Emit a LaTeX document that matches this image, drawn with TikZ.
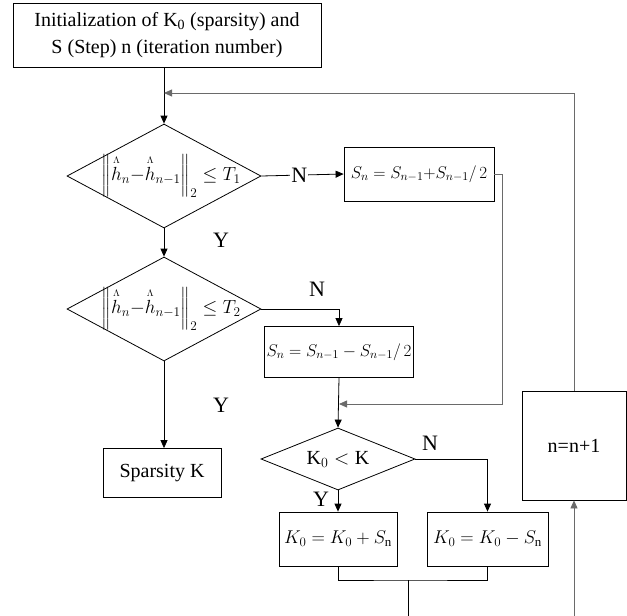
\RequirePackage{fix-cm}
\documentclass[tikz,border=0pt]{standalone}
\usepackage{amsmath}
\usepackage{fontspec}
\setmainfont{Liberation Serif}
\definecolor{lineg}{HTML}{6A6A6A}
\usetikzlibrary{arrows.meta,shapes.geometric}
\newcommand{\hh}{\overset{\scriptscriptstyle\Lambda}{h}}

\begin{document}
\begin{tikzpicture}[x=1pt,y=-1pt,line width=0.8pt,
  box/.style={draw,inner sep=0pt,align=center,font=\fontsize{20}{27}\selectfont},
  dec/.style={draw,shape=diamond,inner sep=0pt,font=\fontsize{19}{22}\selectfont},
  eq/.style={box,font=\fontsize{17}{20}\selectfont},
  lbl/.style={inner sep=1pt,font=\fontsize{22}{24}\selectfont},
  flow/.style={-{Triangle[length=8pt,width=7pt]}},
  back/.style={flow,lineg}]
  \useasboundingbox (0,0) rectangle (627,616);
  \node[box,minimum width=308pt,minimum height=64pt] (init) at (167,35) {Initialization of K\textsubscript{0} (sparsity) and\\S (Step) n (iteration number)};
  \node[dec,minimum width=194pt,minimum height=104pt] (d1) at (164,176) {\makebox[0pt]{\kern14pt$\left\|\hh_n{-}\hh_{n-1}\right\|_2\le T_1$}};
  \node[dec,minimum width=194pt,minimum height=104pt] (d2) at (164,309) {\makebox[0pt]{\kern14pt$\left\|\hh_n{-}\hh_{n-1}\right\|_2\le T_2$}};
  \node[dec,minimum width=154pt,minimum height=62pt,font=\fontsize{20}{22}\selectfont] (d3) at (338,459) {\makebox[0pt]{$\mathrm{K}_0<\mathrm{K}$}};
  \node[eq,minimum width=150pt,minimum height=54pt] (splus) at (419,174) {$S_n=S_{n-1}{+}S_{n-1}/\,2$};
  \node[eq,minimum width=149pt,minimum height=51pt] (sminus) at (339,352) {$S_n=S_{n-1}-S_{n-1}/\,2$};
  \node[box,minimum width=118pt,minimum height=49pt] (spk) at (162,473) {Sparsity K};
  \node[eq,minimum width=118pt,minimum height=54pt,font=\fontsize{18.5}{20}\selectfont] (kplus) at (338,539) {$K_0=K_0+S_\mathrm{n}$};
  \node[eq,minimum width=121pt,minimum height=54pt,font=\fontsize{18.5}{20}\selectfont] (kminus) at (487.5,539) {$K_0=K_0-S_\mathrm{n}$};
  \node[box,minimum width=104pt,minimum height=109pt] (nbox) at (574,445.5) {n=n+1};
  \coordinate (t1) at (164,93);
  \coordinate (m1) at (339,404);
  \coordinate (jn) at (408,580);
  \coordinate (e1) at (408,616);
  \coordinate (e2) at (574,616);
  \node[lbl] (y1) at (221,240) {Y};
  \node[lbl] (y2) at (221,405) {Y};
  \node[lbl] (n2) at (317,289) {N};
  \node[lbl] (n3) at (430,443) {N};
  \node[lbl] (y3) at (321,499) {Y};
  \draw[flow] (d1.north |- init.south) -- (d1.north);
  \draw[flow] (d1.east) -- node[lbl,fill=white,pos=0.46] (n1) {N} (splus.west);
  \draw[flow] (d1.south) -- (d2.north);
  \draw[flow] (d2.south) -- (d2.south |- spk.north);
  \draw[flow] (d2.east) -| (sminus.north);
  \draw[back] (splus.east) -- ++(8,0) |- (m1);
  \draw[flow] (sminus.south) -- (d3.north);
  \draw[flow] (d3.south) -- (kplus.north);
  \draw[flow] (d3.east) -| (kminus.north);
  \draw (kplus.south) |- (jn) -| (kminus.south);
  \draw (jn) -- (e1);
  \draw[back] (e2) -- (nbox.south);
  \draw[back] (nbox.north) |- (t1);
\end{tikzpicture}
\end{document}
